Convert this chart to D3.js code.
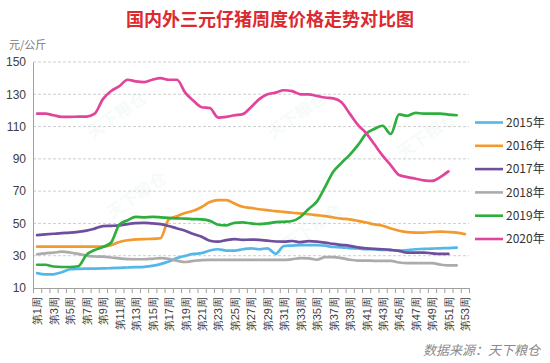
<!DOCTYPE html>
<html>
<head>
<meta charset="utf-8">
<script src="https://cdn.jsdelivr.net/npm/d3@7"></script>
<style>
  body { margin: 0; background: #fff; }
  svg { display: block; font-family: "Noto Sans CJK SC", "Noto Sans", sans-serif; }
</style>
</head>
<body>
<svg id="chart" width="550" height="363"></svg>
<script>
// DATA (one value per week)
const weeks = d3.range(1, 54);
const yTicks = [10, 30, 50, 70, 90, 110, 130, 150];
const seriesNames = ['2015年', '2016年', '2017年', '2018年', '2019年', '2020年'];

const s2015 = [19.2, 18.4, 18.5, 19.8, 21.6, 21.9, 22, 22, 22.1, 22.3, 22.5, 22.7, 22.9,
  23.1, 23.7, 24.8, 26.4, 28.5, 29.9, 31.1, 31.6, 33.2, 34, 33.2, 33.2, 34, 34.6,
  34, 34.6, 31.2, 36, 36.3, 36.6, 36.6, 36.5, 36.2, 35.4, 35.2, 34.7, 34.5,
  34, 34, 33.6, 33.5, 33, 33.5, 34, 34.2, 34.4, 34.6, 34.7, 35];
const s2016 = [35.6, 35.6, 35.6, 35.6, 35.6, 35.6, 35.6, 35.6, 35.7, 36.5, 38.5, 39.6, 40.1,
  40.3, 40.4, 40.8, 52.5, 54.5, 56.5, 57.8, 60.2, 63.2, 64.4, 64.4, 62.3, 60.3, 59.6,
  58.8, 58.2, 57.6, 57.2, 56.6, 56.2, 55.7, 55.1, 54.5, 53.7, 53, 52.5, 51.6,
  50.6, 49.4, 48.6, 46.9, 45.5, 44.6, 44.3, 44.3, 44.7, 44.9, 44.7, 44.3, 43.4];
const s2017 = [42.8, 43.2, 43.6, 44, 44.3, 44.8, 45.5, 46.8, 48.3, 48.5, 48.8, 49.6, 50.2,
  50.4, 50, 49.6, 48.4, 46.9, 45.5, 43.4, 41.8, 39.3, 38.7, 39.7, 40.3, 39.8, 40,
  39.8, 39.3, 38.8, 38.7, 39.1, 38.4, 39, 38.7, 38.1, 37.3, 36.7, 36.1, 35.2,
  34.6, 34.2, 34, 33.6, 33, 31.9, 31.9, 31.9, 31.5, 31.1, 31.1];
const s2018 = [30.9, 31.5, 31.9, 32.5, 32, 31.1, 30.1, 29.5, 29.4, 28.9, 28.3, 27.9, 27.8,
  27.8, 28.1, 28.5, 28.1, 26.9, 26.1, 26.8, 27.3, 27.4, 27.4, 27.4, 27.4, 27.4, 27.4,
  27.4, 27.4, 27.4, 27.4, 27.8, 28.5, 28.4, 27.5, 29.1, 29.1, 28.5, 27.5, 27,
  27, 26.8, 26.8, 26.8, 25.8, 25.4, 25.4, 25.4, 25.4, 24.5, 24, 24];
const s2019 = [24.4, 24.4, 23.3, 23, 23, 23.5, 30.5, 33.5, 35.4, 38.2, 49.3, 52, 54,
  53.8, 54, 53.8, 53.5, 53.1, 53, 52.7, 52.5, 51.6, 49.2, 48.8, 50.4, 50.6, 50,
  49.6, 50, 50.8, 51, 51.5, 54, 59, 63.5, 72.5, 82, 87.5, 92.5, 98.5,
  105.5, 108.5, 110.5, 105.4, 117.5, 116.7, 118.5, 118, 118, 118, 117.4, 117];
const s2020 = [118, 118, 117, 116, 116, 116.2, 116.2, 118, 127, 132, 135, 139, 138,
  137.5, 139, 140, 139, 139, 131, 126, 122, 121.5, 115.6, 116, 117, 117.7, 122,
  127, 130, 131, 132.5, 132, 130, 130, 129, 128, 127.5, 125, 118, 111,
  106, 99, 92, 86, 80, 78.7, 77.7, 76.7, 76.3, 78.7, 82.2];

const seriesValues = [s2015, s2016, s2017, s2018, s2019, s2020];
const seriesColors = ['#55b6e8', '#f29a2e', '#6f4e9e', '#ababab', '#2eae3c', '#e2449b'];

// LAYOUT
const PLOT_LEFT = 33;
const PLOT_RIGHT = 469;
const PLOT_TOP = 62;
const PLOT_BOTTOM = 288;

let svg = d3.select('#chart');

let x = d3.scalePoint()
  .domain(weeks)
  .range([PLOT_LEFT, PLOT_RIGHT])
  .padding(0.5);

// edges of the week slots, used for the tick marks only
let xEdges = d3.scaleLinear()
  .domain([0, weeks.length])
  .range([PLOT_LEFT, PLOT_RIGHT]);

let y = d3.scaleLinear()
  .domain([10, 150])
  .range([PLOT_BOTTOM, PLOT_TOP]);

// faint watermarks behind the plot
const watermarks = [[120, 120], [300, 120], [430, 140], [140, 200], [315, 232]];
svg.append('g')
  .selectAll('text')
  .data(watermarks)
  .join('text')
  .attr('transform', d => `translate(${d[0]},${d[1]}) rotate(-35)`)
  .attr('text-anchor', 'middle')
  .attr('font-size', 17)
  .attr('font-weight', 'bold')
  .attr('fill', '#8fcfa8')
  .attr('opacity', 0.08)
  .text('天下粮仓');

// title and unit
svg.append('text')
  .attr('x', 270).attr('y', 26)
  .attr('text-anchor', 'middle')
  .attr('font-size', 18)
  .attr('font-weight', 'bold')
  .attr('fill', '#dc2a2e')
  .text('国内外三元仔猪周度价格走势对比图');

svg.append('text')
  .attr('x', 9).attr('y', 49)
  .attr('font-size', 11)
  .attr('fill', '#777')
  .text('元/公斤');

// dashed grid
svg.append('g')
  .selectAll('line')
  .data(yTicks.slice(1))
  .join('line')
  .attr('x1', PLOT_LEFT).attr('x2', PLOT_RIGHT)
  .attr('y1', d => y(d)).attr('y2', d => y(d))
  .attr('stroke', '#cfcfcf')
  .attr('stroke-dasharray', '3,2');

// y axis
let yAxis = svg.append('g')
  .attr('transform', `translate(${PLOT_LEFT},0)`)
  .call(d3.axisLeft(y).tickValues(yTicks).tickSize(0).tickPadding(7));
yAxis.select('.domain').attr('stroke', '#a0a0a0');
yAxis.selectAll('text')
  .attr('font-size', 12)
  .attr('fill', '#404040')
  .attr('font-family', '"Liberation Sans", Arial, sans-serif');

// x axis: tick marks between weeks, labels on odd weeks
let xTickAxis = svg.append('g')
  .attr('transform', `translate(0,${PLOT_BOTTOM})`)
  .call(d3.axisBottom(xEdges).tickValues(d3.range(weeks.length + 1)).tickSize(5).tickFormat(''));
xTickAxis.select('.domain').attr('stroke', '#a0a0a0');
xTickAxis.selectAll('.tick line').attr('stroke', '#a0a0a0');

let xLabelAxis = svg.append('g')
  .attr('transform', `translate(0,${PLOT_BOTTOM})`)
  .call(d3.axisBottom(x)
    .tickValues(weeks.filter(w => w % 2 === 1))
    .tickSize(0)
    .tickFormat(w => '第' + w + '周'));
xLabelAxis.select('.domain').remove();
xLabelAxis.selectAll('text')
  .attr('transform', 'rotate(-90)')
  .attr('text-anchor', 'end')
  .attr('x', -9)
  .attr('y', 0)
  .attr('dy', '0.35em')
  .attr('font-size', 11)
  .attr('fill', '#404040');

// the lines
let line = d3.line()
  .x((d, i) => x(weeks[i]))
  .y(d => y(d))
  .curve(d3.curveMonotoneX);

svg.append('g')
  .selectAll('path')
  .data(seriesValues)
  .join('path')
  .attr('d', d => line(d))
  .attr('fill', 'none')
  .attr('stroke', (d, i) => seriesColors[i])
  .attr('stroke-width', 2.7)
  .attr('stroke-linejoin', 'round')
  .attr('stroke-linecap', 'round');

// legend
let legend = svg.append('g')
  .selectAll('g')
  .data(seriesNames)
  .join('g')
  .attr('transform', (d, i) => `translate(475,${122.5 + i * 23.3})`);

legend.append('line')
  .attr('x1', 0).attr('x2', 28)
  .attr('stroke', (d, i) => seriesColors[i])
  .attr('stroke-width', 2.6);

legend.append('text')
  .attr('x', 31)
  .attr('dy', '0.35em')
  .attr('font-size', 12)
  .attr('fill', '#333')
  .text(d => d);

// source
svg.append('text')
  .attr('x', 540).attr('y', 355)
  .attr('text-anchor', 'end')
  .attr('font-size', 13)
  .attr('font-style', 'italic')
  .attr('fill', '#8a8a8a')
  .text('数据来源：天下粮仓');
</script>
</body>
</html>
